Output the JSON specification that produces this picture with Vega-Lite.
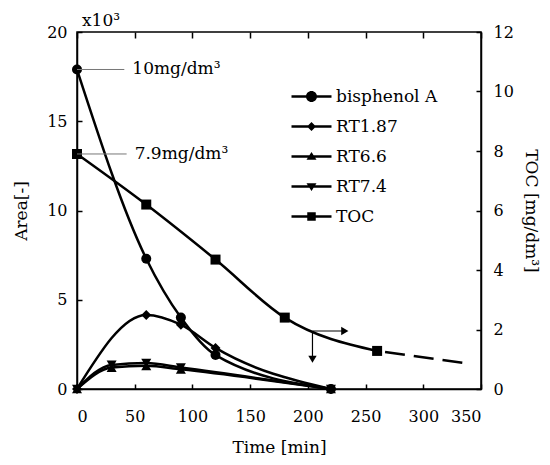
{
  "$schema": "https://vega.github.io/schema/vega-lite/v6.json",
  "width": 404,
  "height": 357,
  "autosize": "none",
  "padding": {"left": 77, "top": 32, "right": 69, "bottom": 76},
  "background": "white",
  "config": {
    "font": "DejaVu Serif",
    "view": {"stroke": "black", "strokeWidth": 1.5},
    "axis": {
      "domainColor": "black", "domainWidth": 1.5,
      "tickColor": "black", "tickWidth": 1.5, "tickSize": -5,
      "labelColor": "black", "labelFont": "DejaVu Serif", "labelFontSize": 16,
      "titleFont": "DejaVu Serif", "titleFontSize": 17, "titleFontWeight": "normal", "titleColor": "black",
      "grid": false
    },
    "legend": {"labelFont": "DejaVu Serif", "titleFont": "DejaVu Serif"}
  },
  "datasets": {
    "area": [
      {"Series": "bisphenol A", "Time": 0, "Area": 17.9},
      {"Series": "bisphenol A", "Time": 60, "Area": 7.3},
      {"Series": "bisphenol A", "Time": 90, "Area": 4.0},
      {"Series": "bisphenol A", "Time": 120, "Area": 1.9},
      {"Series": "bisphenol A", "Time": 220, "Area": 0},
      {"Series": "RT1.87", "Time": 0, "Area": 0},
      {"Series": "RT1.87", "Time": 60, "Area": 4.15},
      {"Series": "RT1.87", "Time": 90, "Area": 3.6},
      {"Series": "RT1.87", "Time": 120, "Area": 2.3},
      {"Series": "RT1.87", "Time": 220, "Area": 0},
      {"Series": "RT6.6", "Time": 0, "Area": 0},
      {"Series": "RT6.6", "Time": 30, "Area": 1.2},
      {"Series": "RT6.6", "Time": 60, "Area": 1.3},
      {"Series": "RT6.6", "Time": 90, "Area": 1.1},
      {"Series": "RT6.6", "Time": 220, "Area": 0},
      {"Series": "RT7.4", "Time": 0, "Area": 0},
      {"Series": "RT7.4", "Time": 30, "Area": 1.35},
      {"Series": "RT7.4", "Time": 60, "Area": 1.45},
      {"Series": "RT7.4", "Time": 90, "Area": 1.2},
      {"Series": "RT7.4", "Time": 220, "Area": 0}
    ],
    "toc": [
      {"Series": "TOC", "Time": 0, "TOC": 7.9},
      {"Series": "TOC", "Time": 60, "TOC": 6.2},
      {"Series": "TOC", "Time": 120, "TOC": 4.35},
      {"Series": "TOC", "Time": 180, "TOC": 2.4},
      {"Series": "TOC", "Time": 260, "TOC": 1.28}
    ],
    "tocdash": [
      {"Time": 260, "TOC": 1.28},
      {"Time": 336, "TOC": 0.87}
    ],
    "areanote": [
      {"Time": 0, "TimeEnd": 41, "Area": 17.9, "label": "10mg/dm³"}
    ],
    "tocnote": [
      {"Time": 0, "TimeEnd": 43, "TOC": 7.9, "label": "7.9mg/dm³"}
    ],
    "arrows": [
      {"Time": 204, "TimeEnd": 232, "TOC": 1.95, "TOCEnd": 1.95},
      {"Time": 204, "TimeEnd": 204, "TOC": 1.95, "TOCEnd": 1.0}
    ],
    "headright": [{"Time": 232, "TOC": 1.95}],
    "headdown": [{"Time": 204, "TOC": 1.0}]
  },
  "layer": [
    {
      "layer": [
        {
          "data": {"name": "area"},
          "mark": {"type": "line", "interpolate": "monotone", "color": "black", "strokeWidth": 2.5},
          "encoding": {
            "x": {"field": "Time", "type": "quantitative", "scale": {"domain": [0, 350]},
              "axis": {"orient": "bottom", "values": [0, 50, 100, 150, 200, 250, 300, 350], "title": "Time [min]", "labelPadding": 24, "titlePadding": 15}},
            "y": {"field": "Area", "type": "quantitative", "scale": {"domain": [0, 20]},
              "axis": {"orient": "left", "values": [0, 5, 10, 15, 20], "title": "Area[-]", "labelPadding": 15, "titlePadding": 16}},
            "detail": {"field": "Series"}
          }
        },
        {
          "data": {"name": "area"},
          "mark": {"type": "point", "filled": true, "color": "black", "opacity": 1, "size": 100},
          "encoding": {
            "x": {"field": "Time", "type": "quantitative"},
            "y": {"field": "Area", "type": "quantitative"},
            "shape": {"field": "Series", "type": "nominal",
              "scale": {"domain": ["bisphenol A", "RT1.87", "RT6.6", "RT7.4"], "range": ["circle", "diamond", "triangle-up", "triangle-down"]},
              "legend": null}
          }
        },
        {
          "data": {"name": "areanote"},
          "mark": {"type": "rule", "color": "#777777", "strokeWidth": 1},
          "encoding": {
            "x": {"field": "Time", "type": "quantitative"},
            "x2": {"field": "TimeEnd"},
            "y": {"field": "Area", "type": "quantitative"}
          }
        },
        {
          "data": {"name": "areanote"},
          "mark": {"type": "text", "font": "DejaVu Serif", "color": "black", "align": "left", "baseline": "middle", "dx": 8, "fontSize": 17},
          "encoding": {
            "x": {"field": "TimeEnd", "type": "quantitative"},
            "y": {"field": "Area", "type": "quantitative"},
            "text": {"field": "label"}
          }
        },
        {
          "data": {"values": [{}]},
          "mark": {"type": "text", "font": "DejaVu Serif", "color": "black", "text": "x10³", "align": "left", "baseline": "bottom", "dx": 5, "dy": -2, "fontSize": 17},
          "encoding": {
            "x": {"datum": 0, "type": "quantitative"},
            "y": {"datum": 20, "type": "quantitative"}
          }
        }
      ]
    },
    {
      "layer": [
        {
          "data": {"name": "toc"},
          "mark": {"type": "line", "interpolate": "monotone", "color": "black", "strokeWidth": 2.5},
          "encoding": {
            "x": {"field": "Time", "type": "quantitative", "scale": {"domain": [0, 350]},
              "axis": {"orient": "top", "values": [0, 50, 100, 150, 200, 250, 300, 350], "labels": false, "title": null, "domain": false, "tickSize": -6}},
            "y": {"field": "TOC", "type": "quantitative", "scale": {"domain": [0, 12]},
              "axis": {"orient": "right", "values": [0, 2, 4, 6, 8, 10, 12], "title": "TOC [mg/dm³]", "labelPadding": 17, "titlePadding": 8}}
          }
        },
        {
          "data": {"name": "tocdash"},
          "mark": {"type": "line", "color": "black", "strokeWidth": 2.5, "strokeDash": [20, 9], "strokeDashOffset": -8},
          "encoding": {
            "x": {"field": "Time", "type": "quantitative"},
            "y": {"field": "TOC", "type": "quantitative"}
          }
        },
        {
          "data": {"name": "toc"},
          "mark": {"type": "point", "shape": "square", "filled": true, "color": "black", "opacity": 1, "size": 100},
          "encoding": {
            "x": {"field": "Time", "type": "quantitative"},
            "y": {"field": "TOC", "type": "quantitative"}
          }
        },
        {
          "data": {"name": "tocnote"},
          "mark": {"type": "rule", "color": "#777777", "strokeWidth": 1},
          "encoding": {
            "x": {"field": "Time", "type": "quantitative"},
            "x2": {"field": "TimeEnd"},
            "y": {"field": "TOC", "type": "quantitative"}
          }
        },
        {
          "data": {"name": "tocnote"},
          "mark": {"type": "text", "font": "DejaVu Serif", "color": "black", "align": "left", "baseline": "middle", "dx": 8, "fontSize": 17},
          "encoding": {
            "x": {"field": "TimeEnd", "type": "quantitative"},
            "y": {"field": "TOC", "type": "quantitative"},
            "text": {"field": "label"}
          }
        },
        {
          "data": {"name": "arrows"},
          "mark": {"type": "rule", "color": "black", "strokeWidth": 1.2},
          "encoding": {
            "x": {"field": "Time", "type": "quantitative"},
            "x2": {"field": "TimeEnd"},
            "y": {"field": "TOC", "type": "quantitative"},
            "y2": {"field": "TOCEnd"}
          }
        },
        {
          "data": {"name": "headright"},
          "mark": {"type": "point", "shape": "triangle-right", "filled": true, "color": "black", "opacity": 1, "size": 70},
          "encoding": {
            "x": {"field": "Time", "type": "quantitative"},
            "y": {"field": "TOC", "type": "quantitative"}
          }
        },
        {
          "data": {"name": "headdown"},
          "mark": {"type": "point", "shape": "triangle-down", "filled": true, "color": "black", "opacity": 1, "size": 70},
          "encoding": {
            "x": {"field": "Time", "type": "quantitative"},
            "y": {"field": "TOC", "type": "quantitative"}
          }
        }
      ]
    },
    {
      "data": {"name": "area"},
      "transform": [{"filter": "datum.Time < 0"}],
      "mark": {"type": "point", "filled": true, "color": "black", "opacity": 1, "size": 100},
      "encoding": {
        "x": {"field": "Time", "type": "quantitative", "scale": {"domain": [0, 350]}, "axis": null},
        "y": {"field": "Area", "type": "quantitative", "scale": {"domain": [0, 20]}, "axis": null},
        "shape": {"field": "Series", "type": "nominal",
          "scale": {"domain": ["bisphenol A", "RT1.87", "RT6.6", "RT7.4", "TOC"],
            "range": [
              "M-4,-0.25H4V0.25H-4ZM1.1,0A1.1,1.1,0,1,1,-1.1,0A1.1,1.1,0,1,1,1.1,0Z",
              "M-4,-0.25H4V0.25H-4ZM0,-0.9L0.9,0L0,0.9L-0.9,0Z",
              "M-4,-0.25H4V0.25H-4ZM0,-0.9L1,0.65L-1,0.65Z",
              "M-4,-0.25H4V0.25H-4ZM1,-0.65L0,0.9L-1,-0.65Z",
              "M-4,-0.25H4V0.25H-4ZM-0.85,-0.85H0.85V0.85H-0.85Z"
            ]},
          "legend": {
            "orient": "none", "legendX": 226, "legendY": 56, "title": null, "padding": 0,
            "labelFont": "DejaVu Serif", "labelFontSize": 17, "labelColor": "black",
            "labelOffset": 16, "rowPadding": 12, "symbolSize": 100
          }
        }
      }
    }
  ],
  "resolve": {"scale": {"x": "independent", "y": "independent", "shape": "independent"}}
}
